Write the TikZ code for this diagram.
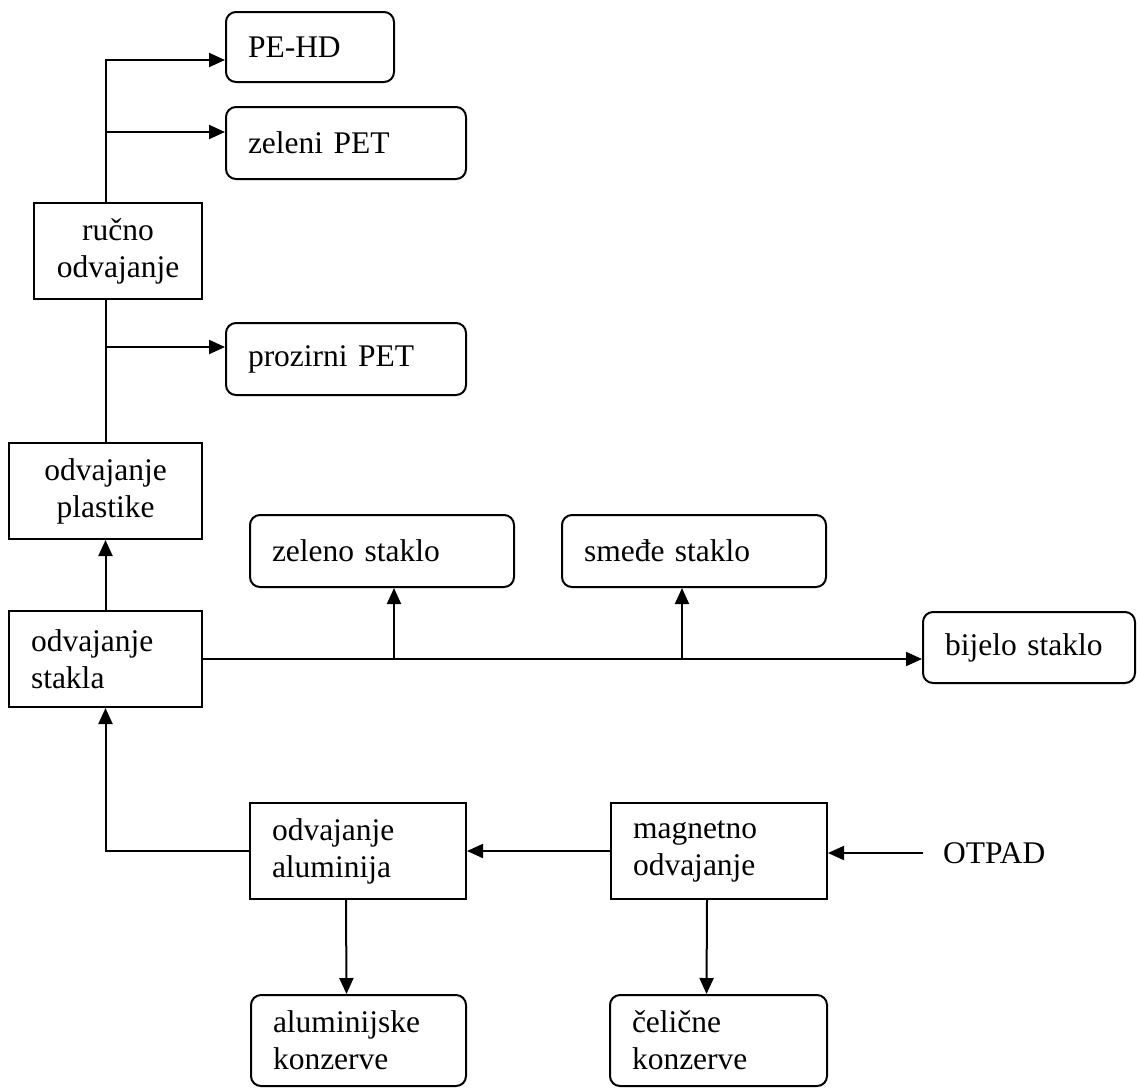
\documentclass[tikz,border=0pt]{standalone}
\usepackage{fontspec}
\setmainfont{Liberation Serif}
\usetikzlibrary{arrows.meta}

\begin{document}
\begin{tikzpicture}[x=1pt, y=-1pt,
  proces/.style={draw, line width=2pt, inner xsep=22pt, inner ysep=0pt,
    minimum height=96pt, font=\fontsize{31.5}{37}\selectfont, align=left},
  izlaz/.style={proces, rounded corners=10pt, minimum height=72pt},
  tok/.style={line width=2pt, -{Triangle[length=16pt,width=14pt]}},
  linija/.style={line width=2pt}]
  \useasboundingbox (0,0) rectangle (1137,1088);

  % plastika
  \node[izlaz, text width=124pt, minimum height=70pt] (pehd) at (310,47) {PE-HD};
  \node[izlaz, text width=196pt] (zelenipet) at (346,143) {zeleni PET};
  \node[proces, text width=140pt, inner xsep=14pt, align=center] (rucno) at (118,251) {ručno\\odvajanje};
  \node[izlaz, text width=196pt] (prozirni) at (346,359) {prozirni PET};
  \node[proces, text width=149pt, align=center] (plastike) at (105.5,491) {odvajanje\\plastike};

  % staklo
  \node[proces, text width=149pt] (stakla) at (105.5,659) {odvajanje\\stakla};
  \node[izlaz, text width=220pt] (zelenost) at (382,551) {zeleno staklo};
  \node[izlaz, text width=220pt] (smedje) at (694,551) {smeđe staklo};
  \node[izlaz, text width=168pt, minimum height=71pt] (bijelo) at (1029,647.5) {bijelo staklo};

  % metali
  \node[proces, text width=172pt] (alu) at (358,851) {odvajanje\\aluminija};
  \node[proces, text width=172pt] (magnetno) at (719,851) {magnetno\\odvajanje};
  \node[font=\fontsize{31.5}{37}\selectfont, inner xsep=20pt, anchor=west] (otpad) at (923,853) {OTPAD};
  \node[izlaz, text width=171pt, minimum height=91pt] (alukonz) at (358.5,1040.5) {aluminijske\\konzerve};
  \node[izlaz, text width=173pt, minimum height=91pt] (celkonz) at (718.5,1040.5) {čelične\\konzerve};

  % veze
  \draw[tok] (rucno.north -| plastike.north) |- ([yshift=-13pt]pehd.west);
  \coordinate (zp) at ([yshift=11pt]zelenipet.west);
  \draw[tok] (zp -| plastike.north) -- (zp);
  \draw[linija] (rucno.south -| plastike.north) -- (plastike.north);
  \coordinate (pp) at ([yshift=12pt]prozirni.west);
  \draw[tok] (pp -| plastike.north) -- (pp);
  \draw[tok] (stakla.north) -- (plastike.south);
  \draw[tok] (stakla.east) -- (stakla.east -| bijelo.west);
  \coordinate (zs) at ([xshift=12pt]zelenost.south);
  \draw[tok] (zs |- stakla.east) -- (zs);
  \coordinate (ss) at ([xshift=-12pt]smedje.south);
  \draw[tok] (ss |- stakla.east) -- (ss);
  \draw[tok] (alu.west) -| (stakla.south);
  \draw[tok] (magnetno.west) -- (alu.east);
  \draw[tok] (otpad.west) -- (otpad.west -| magnetno.east);
  \draw[tok] ([xshift=-12pt]alu.south) -- ([xshift=-12pt]alukonz.north);
  \draw[tok] ([xshift=-12pt]magnetno.south) -- ([xshift=-12pt]celkonz.north);
\end{tikzpicture}
\end{document}
